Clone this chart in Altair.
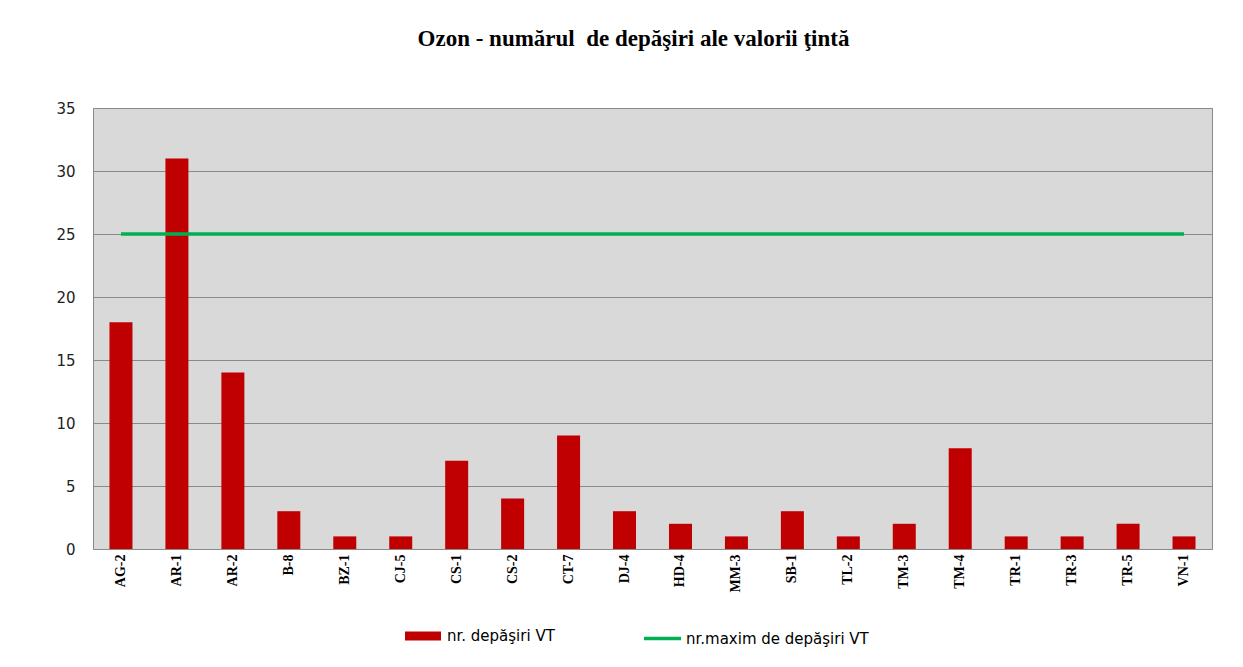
import altair as alt
import pandas as pd

stations = ["AG-2", "AR-1", "AR-2", "B-8", "BZ-1", "CJ-5", "CS-1", "CS-2", "CT-7", "DJ-4",
            "HD-4", "MM-3", "SB-1", "TL-2", "TM-3", "TM-4", "TR-1", "TR-3", "TR-5", "VN-1"]
exceedances = [18, 31, 14, 3, 1, 1, 7, 4, 9, 3, 2, 1, 3, 1, 2, 8, 1, 1, 2, 1]
max_allowed = [25] * len(stations)

bar_label = "nr. depăşiri VT"
line_label = "nr.maxim de depăşiri VT"

df = pd.DataFrame({
    "station": stations,
    "value": exceedances,
    "limit": max_allowed,
    "s1": [bar_label] * len(stations),
    "s2": [line_label] * len(stations),
})

x = alt.X("station:N", sort=stations, title=None,
          scale=alt.Scale(paddingInner=0.0, paddingOuter=0.0),
          axis=alt.Axis(labelAngle=-90, labelFont="Liberation Serif", labelFontWeight="bold",
                        labelFontSize=14, labelColor="black", ticks=False, domain=False,
                        labelPadding=5, grid=False))

bars = alt.Chart(df).mark_bar(size=23).encode(
    x=x,
    y=alt.Y("value:Q", title=None,
            scale=alt.Scale(domain=[0, 35]),
            axis=alt.Axis(values=[0, 5, 10, 15, 20, 25, 30, 35], labelFont="DejaVu Sans",
                          labelFontSize=15, labelColor="#222222", ticks=False, domain=False,
                          labelPadding=18, gridColor="#8a8a8a", gridWidth=1, gridOpacity=1)),
    fill=alt.Fill("s1:N", scale=alt.Scale(domain=[bar_label], range=["#c00000"]),
                  legend=alt.Legend(title=None, orient="none", legendX=312, legendY=510,
                                    symbolType="M-1,-0.25H1V0.25H-1Z", symbolSize=1296,
                                    symbolStrokeWidth=0, labelFont="DejaVu Sans",
                                    labelFontSize=15, labelColor="black", labelOffset=6,
                                    labelLimit=400)),
)

line = alt.Chart(df).mark_line(strokeWidth=3.5).encode(
    x=alt.X("station:N", sort=stations),
    y=alt.Y("limit:Q"),
    stroke=alt.Stroke("s2:N", scale=alt.Scale(domain=[line_label], range=["#00b050"]),
                      legend=alt.Legend(title=None, orient="none", legendX=549, legendY=510,
                                        symbolType="stroke", symbolSize=1369,
                                        symbolStrokeWidth=3.5, labelFont="DejaVu Sans",
                                        labelFontSize=15, labelColor="black", labelOffset=3,
                                        labelLimit=400)),
)

chart = alt.layer(bars, line).properties(
    width=1119,
    height=441,
    autosize=alt.AutoSizeParams(type="none"),
    padding={"left": 85, "top": 100, "right": 20, "bottom": 115},
    title=alt.Title("Ozon - numărul\u00a0 de depăşiri ale valorii ţintă", font="Liberation Serif",
                    fontSize=23, fontWeight="bold", color="black", anchor="middle",
                    offset=50, dx=-19),
).configure(
    background="white",
    view=alt.ViewConfig(fill="#d9d9d9", stroke="#8a8a8a", strokeWidth=1),
)

chart.save("out.html", embed_options={"renderer": "svg", "actions": False})
